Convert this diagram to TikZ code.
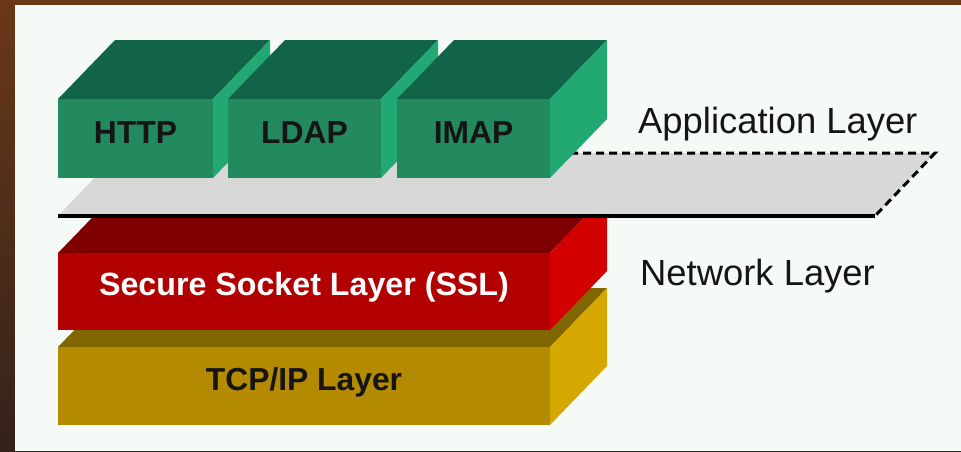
\documentclass[tikz,border=0pt]{standalone}
\usepackage{fontspec}
\setmainfont{Liberation Sans}
\definecolor{frame}{HTML}{33221A}
\definecolor{frametop}{HTML}{6A3818}
\definecolor{panel}{HTML}{F6FAF7}
\definecolor{slabgray}{HTML}{D8D8D8}
\definecolor{greentop}{HTML}{126449}
\definecolor{greenfront}{HTML}{228A5E}
\definecolor{greenside}{HTML}{22A872}
\definecolor{redtop}{HTML}{7F0000}
\definecolor{redfront}{HTML}{B20000}
\definecolor{redside}{HTML}{D20000}
\definecolor{olivetop}{HTML}{806600}
\definecolor{olivefront}{HTML}{B38A00}
\definecolor{oliveside}{HTML}{D4A800}
\definecolor{ink}{HTML}{151515}
% block with front face (#1,#2)-(#3,#4) and depth offset (57,-59)
\newcommand\drawblock[7]{%
  \fill[#5] (#1,#2) -- (#1+57,#2-59) -- (#3+57,#2-59) -- (#3,#2) -- cycle;
  \fill[#7] (#3,#2) -- (#3+57,#2-59) -- (#3+57,#4-59) -- (#3,#4) -- cycle;
  \fill[#6] (#1,#2) rectangle (#3,#4);
}
\begin{document}
\begin{tikzpicture}[x=1pt,y=-1pt,
  sidelabel/.style={font=\fontsize{36.4}{40}\selectfont, text=ink, inner sep=0pt, anchor=base west},
  blocklabel/.style={font=\bfseries\fontsize{31.8}{36}\selectfont, inner sep=0pt, anchor=base},
  edgeline/.style={line width=3.5pt, draw=black},
  hiddenedge/.style={line width=3pt, draw=black, dash pattern=on 8pt off 5pt, miter limit=10}]
  % frame and panel
  \useasboundingbox (0,0) rectangle (961,451);
  \shade[top color=frametop, bottom color=frame] (0,0) rectangle (961,451);
  \fill[panel] (15,5) rectangle (961,451);
  % network layer blocks
  \drawblock{58}{347}{550}{425}{olivetop}{olivefront}{oliveside}
  \drawblock{58}{253}{550}{330}{redtop}{redfront}{redside}
  % platform carrying the application protocols
  \coordinate (slabBL) at (58,216);
  \coordinate (slabBR) at (875,216);
  \coordinate (slabTR) at (935,153);
  \coordinate (slabTL) at (118,153);
  \coordinate (dashStart) at (570,153);
  \fill[slabgray] (slabBL) -- (slabBR) -- (slabTR) -- (slabTL) -- cycle;
  \draw[edgeline] (slabBL) -- (slabBR);
  \draw[hiddenedge] (dashStart) -- (slabTR) -- (slabBR);
  % application protocol blocks
  \drawblock{58}{99}{213}{178}{greentop}{greenfront}{greenside}
  \drawblock{228}{99}{381}{178}{greentop}{greenfront}{greenside}
  \drawblock{397}{99}{550}{178}{greentop}{greenfront}{greenside}
  % labels
  \node[blocklabel, text=ink] (http) at (135.5,143) {HTTP};
  \node[blocklabel, text=ink] (ldap) at (304.5,143) {LDAP};
  \node[blocklabel, text=ink] (imap) at (473.5,143) {IMAP};
  \node[blocklabel, text=white, font=\bfseries\fontsize{32.2}{36}\selectfont] (ssl) at (304,295) {Secure Socket Layer (SSL)};
  \node[blocklabel, text=ink] (tcp) at (304,390) {TCP/IP Layer};
  \node[sidelabel] (app) at (638,133) {Application Layer};
  \node[sidelabel] (net) at (640,285) {Network Layer};
\end{tikzpicture}
\end{document}
